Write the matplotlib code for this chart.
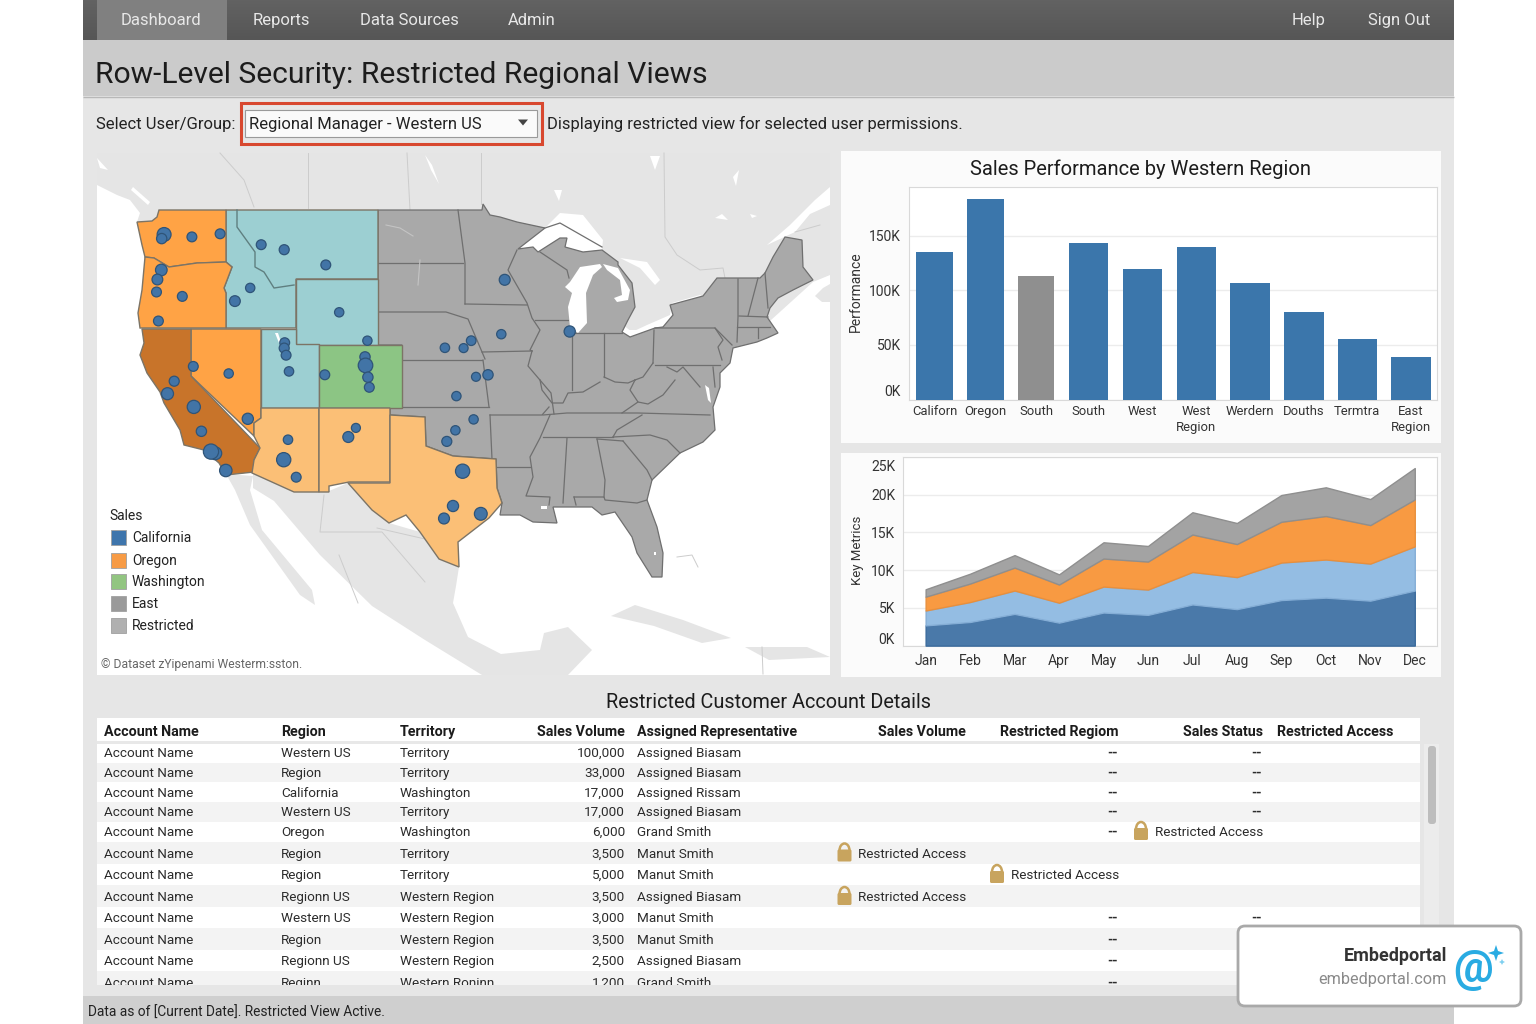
import matplotlib
matplotlib.use('Agg')
import numpy as np
from matplotlib import pyplot as plt
from matplotlib.patches import Rectangle, Polygon, FancyBboxPatch, Arc
from matplotlib.transforms import Bbox, ScaledTranslation, TransformedBbox

plt.rcParams['font.family'] = ['Roboto', 'DejaVu Sans']

# bar chart
bar_labels = ['Californ', 'Oregon', 'South', 'South', 'West', 'West\nRegion', 'Werdern', 'Douths', 'Termtra', 'East\nRegion']
bar_values = [135000, 184000, 113000, 144000, 120000, 140000, 107000, 80000, 55500, 38600]
bar_colors = ['#3b76ab', '#3b76ab', '#8f8f8f', '#3b76ab', '#3b76ab', '#3b76ab', '#3b76ab', '#3b76ab', '#3b76ab', '#3b76ab']
bar_centers = [934.4, 985.3, 1036.3, 1088.6, 1142.5, 1196.2, 1249.7, 1303.6, 1357.3, 1410.8]
bar_widths = [37, 37, 36, 39.7, 39.3, 39.3, 39.7, 40, 39.3, 39.7]

# area chart
months = ['Jan', 'Feb', 'Mar', 'Apr', 'May', 'Jun', 'Jul', 'Aug', 'Sep', 'Oct', 'Nov', 'Dec']
area_dark = [2680, 3130, 4200, 3040, 4380, 4070, 5450, 4830, 6030, 6350, 5950, 7290]
area_light = [1970, 2640, 3090, 2640, 3440, 3350, 4300, 4240, 4970, 5050, 4910, 5850]
area_orange = [1830, 2450, 3040, 2410, 3710, 3710, 4960, 4380, 5400, 5760, 5100, 6220]
area_gray = [980, 1300, 1650, 1340, 2150, 2060, 2950, 2780, 3540, 3800, 3440, 4150]

# table
table_headers = ['Account Name', 'Region', 'Territory', 'Sales Volume', 'Assigned Representative',
                 'Sales Volume', 'Restricted Regiom', 'Sales Status', 'Restricted Access']
table_regions = ['Western US', 'Region', 'California', 'Western US', 'Oregon', 'Region', 'Region',
                 'Regionn US', 'Western US', 'Region', 'Regionn US', 'Reginn']
table_territories = ['Territory', 'Territory', 'Washington', 'Territory', 'Washington', 'Territory', 'Territory',
                     'Western Region', 'Western Region', 'Western Region', 'Western Region', 'Western Roninn']
table_volumes = ['100,000', '33,000', '17,000', '17,000', '6,000', '3,500', '5,000', '3,500', '3,000', '3,500', '2,500', '1,200']
table_reps = ['Assigned Biasam', 'Assigned Biasam', 'Assigned Rissam', 'Assigned Biasam', 'Grand Smith', 'Manut Smith',
              'Manut Smith', 'Assigned Biasam', 'Manut Smith', 'Manut Smith', 'Assigned Biasam', 'Grand Smith']
table_col6_dash = [0, 1, 2, 3, 4, 8, 9, 10, 11]
table_col7_dash = [0, 1, 2, 3, 8]
row_y = [752, 771.5, 791.5, 811, 831, 852.5, 874, 896, 917, 938.5, 959.5, 981.5]

# map legend
legend_labels = ['California', 'Oregon', 'Washington', 'East', 'Restricted']
legend_colors = ['#3e75ac', '#f79b45', '#92c581', '#9a9a9a', '#b0b0b0']
legend_y = [537, 560, 581, 603, 625]

# map shapes, in screen pixels of the reference
state_wa = [(137, 222), (152, 221), (157, 217), (159, 210), (226, 210), (226, 262), (197, 263), (169, 267), (154, 258), (145, 257), (142, 245)]
state_or = [(145, 257), (154, 258), (169, 267), (197, 263), (226, 262), (232, 267), (224, 288), (226, 293), (226, 328), (140, 328), (138, 313), (142, 290)]
state_id_mt = [(226, 210), (378, 210), (378, 279), (296, 279), (296, 328), (226, 328), (226, 293), (224, 288), (232, 267), (226, 262)]
state_wy = [(296, 279), (378, 279), (378, 345), (296, 345)]
state_ut = [(261, 329), (296, 329), (296, 344), (319, 344), (319, 408), (261, 408)]
state_co = [(319, 345), (402, 345), (402, 408), (319, 408)]
state_ca = [(142, 329), (191, 329), (191, 376), (260, 448), (254, 460), (254, 472), (226, 475), (219, 463), (204, 450), (184, 445),
            (180, 430), (164, 403), (160, 392), (147, 373), (140, 355), (144, 343)]
state_nv = [(191, 329), (261, 329), (261, 418), (254, 423), (254, 436), (191, 376)]
state_az = [(261, 408), (319, 408), (319, 492), (294, 492), (252, 473), (254, 460), (260, 448), (254, 436), (254, 423), (261, 418)]
state_nm = [(319, 408), (390, 408), (390, 482), (349, 482), (329, 486), (329, 492), (319, 492)]
state_tx = [(390, 415), (425, 417), (426, 446), (453, 456), (496, 459), (497, 488), (502, 503), (489, 518), (458, 542), (459, 567),
            (439, 559), (420, 532), (406, 515), (389, 523), (372, 510), (348, 483), (390, 483)]
east_outline = [(378, 210), (482, 210), (483, 204), (490, 215), (500, 217), (517, 222), (545, 228), (518, 249), (533, 247), (538, 252),
                (560, 238), (567, 238), (565, 247), (583, 252), (602, 250), (618, 262), (618, 265), (632, 283), (635, 307), (628, 320),
                (622, 332), (630, 337), (655, 328), (663, 327), (673, 315), (670, 305), (703, 296), (717, 278), (760, 278), (765, 273),
                (773, 257), (785, 237), (802, 240), (803, 267), (813, 280), (793, 290), (778, 298), (770, 308), (767, 317), (778, 333),
                (767, 338), (757, 342), (733, 348), (730, 363), (720, 373), (720, 387), (713, 407), (715, 430), (703, 442), (680, 453),
                (652, 480), (647, 500), (657, 527), (663, 553), (662, 577), (652, 577), (637, 553), (632, 537), (615, 512), (602, 515),
                (592, 507), (553, 507), (557, 523), (533, 522), (520, 515), (500, 515), (502, 503), (497, 488), (496, 459), (453, 456),
                (426, 446), (425, 417), (390, 415), (390, 408), (402, 408), (402, 345), (378, 345)]
state_lines = [
    [(458, 210), (465, 263), (465, 304)], [(378, 263), (463, 263)], [(378, 312), (446, 312), (468, 319), (485, 359)],
    [(465, 304), (527, 305)], [(517, 250), (508, 270), (527, 303), (532, 318), (540, 330), (530, 350), (532, 351)],
    [(402, 360), (482, 360)], [(482, 352), (532, 351)], [(483, 360), (489, 407)], [(391, 407), (489, 407)],
    [(532, 351), (528, 366), (551, 393), (554, 414)], [(490, 415), (492, 459)], [(490, 415), (542, 415), (549, 407)],
    [(496, 467), (530, 467)], [(535, 320), (568, 320)], [(540, 252), (567, 270), (569, 278)], [(572, 337), (572, 390)],
    [(572, 333), (622, 333)], [(604, 333), (604, 377)], [(654, 330), (653, 363)], [(655, 328), (715, 328), (732, 345)],
    [(655, 365), (720, 365)], [(715, 328), (723, 340), (718, 347), (722, 360)], [(738, 279), (738, 317), (737, 342)],
    [(758, 278), (748, 316)], [(765, 273), (768, 308)], [(739, 316), (768, 317)], [(737, 327), (770, 327)], [(758, 328), (758, 338)],
    [(667, 367), (677, 372), (683, 367), (700, 387)], [(713, 367), (715, 387)], [(653, 363), (643, 377), (635, 380)],
    [(604, 377), (615, 382), (628, 383), (635, 380)],
    [(540, 380), (542, 390), (552, 403), (563, 403), (568, 393), (583, 392), (600, 382)], [(543, 415), (567, 413), (638, 413), (710, 415)],
    [(635, 380), (630, 390), (638, 402), (622, 413)], [(638, 402), (648, 404), (663, 395), (675, 380)], [(543, 437), (613, 437)],
    [(613, 437), (617, 430), (642, 415)], [(613, 437), (650, 435), (667, 440), (680, 453)], [(623, 441), (647, 470), (652, 480)],
    [(597, 439), (623, 441)], [(597, 439), (605, 480), (604, 497)], [(574, 497), (604, 497), (605, 500), (637, 503), (647, 500)],
    [(574, 497), (576, 505)], [(567, 438), (563, 503)], [(549, 505), (550, 497), (526, 496), (533, 477), (530, 457), (540, 438), (550, 415)],
    [(545, 228), (560, 223), (602, 247)],
]
land_canada = [(97, 153), (830, 153), (830, 275), (813, 282), (760, 330), (500, 330), (230, 290), (160, 260), (137, 222), (140, 213),
               (130, 200), (117, 195), (97, 185)]
land_scotia = [(815, 296), (823, 288), (830, 284), (830, 302), (822, 302)]
land_mexico = [(253, 488), (274, 501), (320, 555), (372, 606), (425, 640), (482, 675), (568, 675), (592, 650), (568, 627), (544, 633),
               (540, 650), (501, 654), (468, 637), (453, 603), (456, 586), (459, 567), (439, 559), (420, 532), (389, 523), (348, 483),
               (329, 491), (253, 474)]
land_baja = [(226, 474), (253, 476), (250, 490), (262, 530), (312, 590), (315, 605), (300, 595), (250, 525), (235, 490)]
land_cuba = [(611, 616), (635, 605), (683, 620), (731, 638), (702, 643), (654, 626)]
land_hispaniola = [(745, 647), (807, 647), (830, 657), (769, 660)]
lake_superior = [(518, 249), (545, 228), (560, 213), (583, 215), (603, 240), (602, 250), (583, 252), (565, 247), (567, 238), (560, 238), (538, 252), (533, 247)]
lake_erie = [(623, 325), (632, 332), (647, 325), (670, 315), (672, 303), (700, 295), (706, 298), (702, 306), (675, 317), (655, 332), (628, 340), (622, 333)]
lake_georgian = [(620, 258), (647, 262), (660, 280), (655, 285), (640, 268)]
lake_michigan = [(572, 293), (568, 307), (570, 327), (578, 333), (587, 323), (586, 293), (593, 275), (602, 267), (600, 264), (580, 267), (570, 282), (565, 287)]
lake_huron = [(603, 264), (618, 268), (630, 290), (628, 300), (617, 302), (614, 298), (622, 295), (620, 280), (607, 270)]
small_lakes = [[(275, 333), (278, 333), (282, 345), (279, 343)], [(541, 506), (547, 506), (547, 509), (541, 509)],
               [(654, 552), (656, 552), (656, 555), (654, 555)], [(705, 385), (709, 388), (711, 403), (708, 400)]]
canada_water = [[(425, 155), (432, 165), (439, 184), (431, 170)], [(554, 190), (562, 190), (559, 201)],
                [(650, 156), (660, 156), (655, 170)], [(733, 177), (739, 170), (736, 186)], [(715, 218), (728, 220), (722, 214)],
                [(767, 245), (790, 225), (815, 200), (830, 187), (830, 205), (810, 214), (795, 232)], [(97, 158), (108, 170), (100, 168)],
                [(131, 190), (148, 205), (150, 202), (133, 187)], [(757, 216), (752, 218), (750, 214)]]
thin_lines = [[(308, 153), (308, 208)], [(407, 153), (410, 210)], [(220, 153), (244, 180), (254, 207)], [(481, 153), (481, 204)],
              [(664, 153), (665, 237), (677, 255), (700, 270), (723, 268), (725, 278)], [(795, 232), (820, 225)],
              [(324, 495), (320, 532), (382, 532), (425, 582)], [(377, 528), (425, 539)], [(339, 555), (358, 603)], [(762, 647), (763, 674)],
              [(677, 557), (692, 555), (698, 567)]]
river_lines = [[(386, 225), (400, 228), (413, 236)], [(420, 260), (418, 285)]]

# customer dots on the map
dot_x = [164.1, 161.7, 191.9, 220.1, 161.3, 157.4, 156.5, 182.3, 158.4, 261.2, 284.2, 325.8, 250.2, 234.9, 339.2, 367.4, 284.7, 284.2, 286.1,
         289, 324.8, 365, 365.5, 367.9, 369.3, 193.3, 228.7, 174.2, 167.5, 193.8, 247.8, 201.4, 215.3, 211, 225.8, 288, 283.7, 296.2, 355.9,
         348.3, 462.6, 453, 480.8, 444, 504.7, 569.7, 501.3, 471.2, 463.6, 444.9, 476, 488, 456.4, 473.6, 455.4, 446.8]
dot_y = [234.5, 238.6, 236.9, 233.8, 270, 279.5, 292, 296.4, 321, 244.7, 249.7, 264.9, 287.9, 301.1, 312.3, 340.7, 342.7, 348.1, 355.2,
         371.4, 374.8, 356.9, 365.4, 377.2, 387.3, 366.4, 373.5, 381.2, 393.7, 406.9, 418.8, 431.3, 453.3, 451.6, 470.5, 439.7, 459.7, 477.2, 427.9,
         437, 471.2, 506, 513.8, 518.5, 279.8, 331.5, 334.2, 340.7, 348.1, 347.8, 376.8, 374.8, 396.1, 419.4, 430.3, 441.4]
dot_s = [100, 55, 50, 50, 70, 60, 50, 50, 50, 50, 52, 50, 45, 60, 45, 45, 50, 52, 50,
         46, 50, 55, 110, 55, 50, 50, 45, 52, 75, 90, 65, 55, 85, 120, 80, 46, 105, 50, 42,
         62, 105, 65, 85, 62, 62, 65, 45, 48, 42, 46, 42, 55, 45, 45, 45, 52]


fig = plt.figure(figsize=(15.36, 10.24), dpi=100)
fig.patch.set_facecolor('white')


def px_axes(x0, y0, x1, y1):
    return fig.add_axes([x0 / 1536, 1 - y1 / 1024, (x1 - x0) / 1536, (y1 - y0) / 1024])


ui = px_axes(0, 0, 1536, 1024)
ui.set_xlim(0, 1536)
ui.set_ylim(1024, 0)
ui.axis('off')


def box(x0, y0, x1, y1, color, **kw):
    ui.add_patch(Rectangle((x0, y0), x1 - x0, y1 - y0, facecolor=color, edgecolor=kw.pop('edge', 'none'), **kw))


def label(x, y, s, size=10, color='#222222', ha='left', **kw):
    # y is the middle of the caps, so rows keep one baseline whatever the letters are
    return ui.text(x, y + 0.5 * size + 0.3, s, fontsize=size, color=color, ha=ha, va='baseline', **kw)


box(83, 0, 1454, 1024, '#e6e6e6')
nav_cmap = matplotlib.colors.LinearSegmentedColormap.from_list('n', ['#626262', '#565656'])
ui.imshow(np.linspace(0, 1, 40).reshape(-1, 1), extent=(83, 1454, 40, 0), cmap=nav_cmap, aspect='auto', zorder=1)
ui.set_xlim(0, 1536)
ui.set_ylim(1024, 0)
box(97, 0, 227, 40, '#808080', zorder=1.5)
box(83, 40, 1454, 96, '#cbcbcb', zorder=1)
ui.plot([83, 1454], [96.5, 96.5], color='#b8b8b8', lw=1, solid_capstyle='butt', zorder=1.5)
box(83, 996, 1454, 1024, '#cfcfcf', zorder=1)

for cx, s in zip([161, 281, 409, 532, 1309, 1399], ['Dashboard', 'Reports', 'Data Sources', 'Admin', 'Help', 'Sign Out']):
    label(cx, 18.5, s, size=12, color='#e8e8e8', ha='center', zorder=3)
label(95, 71.5, 'Row-Level Security: Restricted Regional Views', size=21.6, color='#1c1c1c', zorder=3)

label(96, 123, 'Select User/Group:', size=12, zorder=3)
box(240.5, 103, 541.5, 144, 'none', edge='#d8482f', lw=2.2, zorder=3)
box(245, 109.5, 537, 136.5, '#fafafa', edge='#9a9a9a', lw=0.8, zorder=3)
label(249, 123, 'Regional Manager - Western US', size=12, zorder=4)
ui.add_patch(Polygon([(518, 119.5), (528, 119.5), (523, 125.5)], facecolor='#444444', zorder=4))
label(547, 123, 'Displaying restricted view for selected user permissions.', size=12, zorder=3)

# side panels
box(841, 151, 1441, 443, '#fbfbfb', zorder=1)
box(841, 453, 1441, 677, '#fbfbfb', zorder=1)
label(1141, 167, 'Sales Performance by Western Region', size=14.5, color='#1c1c1c', ha='center', zorder=3)
ui.text(856, 292, 'Performance', fontsize=10, color='#333333', ha='center', va='center', rotation=90, zorder=3)
ui.text(857, 550, 'Key Metrics', fontsize=9.5, color='#333333', ha='center', va='center', rotation=90, zorder=3)

# table
label(768, 701, 'Restricted Customer Account Details', size=14.3, color='#1c1c1c', ha='center', zorder=3)
box(97, 718, 1420, 985, 'white', zorder=1)
box(97, 741, 1420, 744, '#e8e8e8', zorder=1.2)
edges = [743, 762.5, 782, 801.5, 821.5, 842, 864, 885, 907, 928, 949.5, 970.5, 985]
for i in range(12):
    if i % 2 == 1:
        box(97, edges[i], 1420, edges[i + 1], '#f3f3f3', zorder=1.2)
box(1424, 744, 1439, 985, '#ececec', zorder=1.2)
ui.add_patch(FancyBboxPatch((1428, 746), 8, 78, boxstyle='round,pad=0,rounding_size=3', facecolor='#bdbdbd', edgecolor='none', zorder=1.5))

# agg only honours a clip box for text, a clip path would be ignored
table_clip = TransformedBbox(Bbox([[97, 718], [1420, 985]]), ui.transData)
header_x = [104, 281, 400, 625, 637, 966, 1119, 1263, 1277]
header_ha = ['left', 'left', 'left', 'right', 'left', 'right', 'right', 'right', 'left']
for x, ha, s in zip(header_x, header_ha, table_headers):
    label(x, 731, s, size=10.3, color='#1c1c1c', ha=ha, fontweight='bold', zorder=3)


def lock(x, y):
    ui.add_patch(Arc((x, y - 2), 10, 14, theta1=180, theta2=360, color='#c8a45e', lw=1.8, zorder=3))
    ui.add_patch(FancyBboxPatch((x - 7, y - 3), 14, 12, boxstyle='round,pad=0,rounding_size=1.5', facecolor='#c8a45e', edgecolor='none', zorder=3))


for i, y in enumerate(row_y):
    row = [label(104, y, 'Account Name', size=9.7, color='#2c2c2c', zorder=3),
           label(281, y, table_regions[i], size=9.7, color='#2c2c2c', zorder=3),
           label(400, y, table_territories[i], size=9.7, color='#2c2c2c', zorder=3),
           label(625, y, table_volumes[i], size=9.7, color='#2c2c2c', ha='right', zorder=3),
           label(637, y, table_reps[i], size=9.7, color='#2c2c2c', zorder=3)]
    if i in table_col6_dash:
        row.append(label(1118, y, '--', size=9.7, color='#2c2c2c', ha='right', fontweight='bold', zorder=3))
    if i in table_col7_dash:
        row.append(label(1262, y, '--', size=9.7, color='#2c2c2c', ha='right', fontweight='bold', zorder=3))
    for t in row:
        t.set_clip_on(True)
        t.set_clip_box(table_clip)

for x, y in [(844.5, 852.5), (997, 874), (844.5, 896), (1141, 831)]:
    lock(x, y)
    label(x + 14, y, 'Restricted Access', size=9.7, color='#2c2c2c', zorder=3)

label(88, 1011.5, 'Data as of [Current Date]. Restricted View Active.', size=9.9, color='#222222', zorder=3)

# badge
ui.add_patch(FancyBboxPatch((1238, 926), 283, 80, boxstyle='round,pad=0,rounding_size=7', facecolor='white', edgecolor='#a9a9a9', lw=2, zorder=5))
label(1447, 954, 'Embedportal', size=13, color='#333333', ha='right', fontweight='bold', zorder=6)
label(1447, 978, 'embedportal.com', size=11.7, color='#8a8a8a', ha='right', zorder=6)
label(1473, 966, '@', size=32, color='#29abe2', ha='center', fontweight='bold', zorder=6)
ui.add_patch(Polygon([(1496, 945), (1498, 951), (1504, 953), (1498, 955), (1496, 961), (1494, 955), (1488, 953), (1494, 951)], facecolor='#29abe2', zorder=6))
ui.add_patch(Polygon([(1502, 959), (1503, 961), (1505, 962), (1503, 963), (1502, 965), (1501, 963), (1499, 962), (1501, 961)], facecolor='#7fd0f0', zorder=6))

# map panel
m = px_axes(90, 150, 840, 680)
m.set_xlim(90, 840)
m.set_ylim(680, 150)
m.axis('off')
m.add_patch(Rectangle((97, 153), 733, 522, facecolor='white', edgecolor='none'))
LAND = '#e5e5e5'
for poly in [land_canada, land_scotia, land_mexico, land_baja, land_cuba, land_hispaniola]:
    m.add_patch(Polygon(poly, facecolor=LAND, edgecolor='none', zorder=1))
for poly in canada_water + [lake_erie, lake_georgian, lake_superior]:
    m.add_patch(Polygon(poly, facecolor='white', edgecolor='none', zorder=1.1))
for line in thin_lines:
    xs, ys = zip(*line)
    m.plot(xs, ys, color='#cccccc', lw=0.7, zorder=1.2)

m.add_patch(Polygon(east_outline, facecolor='#a9a9a9', edgecolor='#6f6f6f', lw=0.9, zorder=2))
for line in state_lines:
    xs, ys = zip(*line)
    m.plot(xs, ys, color='#6f6f6f', lw=0.9, zorder=2.1)
for line in river_lines:
    xs, ys = zip(*line)
    m.plot(xs, ys, color='#c4c4c4', lw=0.8, zorder=2.1)
for poly in [lake_michigan, lake_huron] + small_lakes[1:]:
    m.add_patch(Polygon(poly, facecolor='white', edgecolor='none', zorder=2.2))

state_edge = '#7c7466'
for poly, color in [(state_id_mt, '#9ccfd2'), (state_wy, '#9ccfd2'), (state_ut, '#9ccfd2'), (state_co, '#8cc584'),
                    (state_wa, '#ffa345'), (state_or, '#ffa345'), (state_nv, '#ffa345'), (state_ca, '#c8742a'),
                    (state_az, '#fbbf76'), (state_nm, '#fbbf76'), (state_tx, '#fbbf76')]:
    m.add_patch(Polygon(poly, facecolor=color, edgecolor=state_edge, lw=1, zorder=3))
m.add_patch(Polygon(small_lakes[0], facecolor='white', edgecolor='none', zorder=3.05))
m.plot([237, 237, 255, 255, 264, 274, 294], [210, 227, 252, 267, 272, 288, 285], color='#5f7f80', lw=1, zorder=3.1)
m.scatter(dot_x, dot_y, s=dot_s, facecolor='#4274a6', edgecolor='#2f5478', linewidth=0.9, zorder=4)

# map legend
ui.set_zorder(0)
m.set_zorder(1)
m.text(109, 520, 'Sales', fontsize=10, color='#222222', va='baseline', zorder=5)
for zy, s, c in zip(legend_y, legend_labels, legend_colors):
    m.add_patch(Rectangle((111, zy - 7.5), 15, 15, facecolor=c, edgecolor='#a0a0a0', lw=0.6, zorder=5))
    m.text(132, zy + 5, s, fontsize=10, color='#222222', va='baseline', zorder=5)
m.text(101, 668, '\u00a9 Dataset zYipenami Westerm:sston.', fontsize=8.7, color='#666666', va='baseline', zorder=5)

# bar chart
b = px_axes(909, 186.5, 1437, 399.5)
b.set_zorder(2)
b.set_facecolor('white')
b.bar(bar_centers, bar_values, width=bar_widths, color=bar_colors, zorder=3)
b.set_xlim(909, 1437)
b.set_ylim(0, 195400)
b.set_yticks([0, 50000, 100000, 150000])
b.set_yticklabels(['0K', '50K', '100K', '150K'], fontsize=10, color='#333333')
b.set_xticks(bar_centers)
b.set_xticklabels(bar_labels, fontsize=9.4, color='#333333', linespacing=1.25)
b.tick_params(axis='x', length=0, pad=4)
b.tick_params(axis='y', length=0, pad=6)
b.grid(axis='y', color='#ececec', lw=1, zorder=0)
for s in b.spines.values():
    s.set_color('#d9d9d9')
b.get_yticklabels()[0].set_transform(b.get_yticklabels()[0].get_transform() + ScaledTranslation(0, 8.5 / 100, fig.dpi_scale_trans))

# area chart
a = px_axes(903.4, 456.8, 1437, 645.6)
a.set_zorder(2)
a.set_facecolor('white')
a.grid(axis='y', color='#ececec', lw=1, zorder=0)
x_months = np.arange(12)
polys = a.stackplot(x_months, area_dark, area_light, area_orange, area_gray,
                    colors=['#4a79a9', '#94bde3', '#f89a42', '#a3a3a3'], zorder=3)
for p, c in zip(polys, ['#3a6a9c', '#85aed6', '#e88f3c', '#8f8f8f']):
    p.set_edgecolor(c)
    p.set_linewidth(1)
a.set_xlim(-0.5, 11.5)
a.set_ylim(0, 25000)
a.set_yticks([0, 5000, 10000, 15000, 20000, 25000])
a.set_yticklabels(['0K', '5K', '10K', '15K', '20K', '25K'], fontsize=10, color='#333333')
a.set_xticks(x_months)
a.set_xticklabels(months, fontsize=10, color='#333333')
a.tick_params(axis='both', length=0, pad=6)
for s in a.spines.values():
    s.set_color('#d9d9d9')
yl = a.get_yticklabels()
yl[0].set_transform(yl[0].get_transform() + ScaledTranslation(0, 7.5 / 100, fig.dpi_scale_trans))
yl[-1].set_transform(yl[-1].get_transform() + ScaledTranslation(0, -9 / 100, fig.dpi_scale_trans))

plt.savefig('out.png', dpi=100)
